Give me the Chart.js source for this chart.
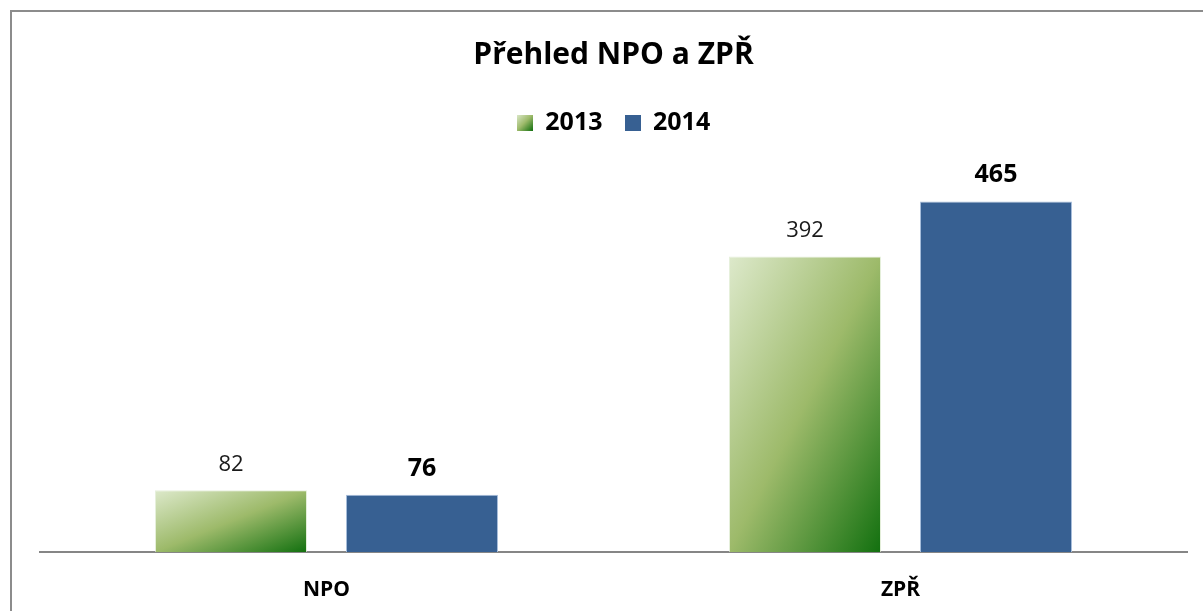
<!DOCTYPE html>
<html>
<head>
<meta charset="utf-8">
<script src="https://cdn.jsdelivr.net/npm/chart.js@4/dist/chart.umd.min.js"></script>
<style>
  html, body { margin: 0; padding: 0; background: #fff; }
  #wrap { width: 1203px; height: 611px; position: relative; }
</style>
</head>
<body>
<div id="wrap"><canvas id="chart"></canvas></div>
<script>
// data
const categories = ['NPO', 'ZPŘ'];
const years = ['2013', '2014'];
const values2013 = [82, 392];
const values2014 = [76, 465];

const BLUE = '#376092';
const FONT = '"Open Sans", Lato, sans-serif';

function greenStops(g) {
    g.addColorStop(0, '#dde9cb');
    g.addColorStop(0.5, '#9dba6a');
    g.addColorStop(1, '#12700f');
    return g;
}

// gradient whose middle line runs along the anti-diagonal of the box
function greenGradient(ctx, left, top, w, h) {
    const k = 2 * w * h / (w * w + h * h);
    return greenStops(ctx.createLinearGradient(left, top, left + h * k, top + w * k));
}

// small swatches for the legend
function swatch(kind) {
    const c = document.createElement('canvas');
    c.width = 16; c.height = 16;
    const x = c.getContext('2d');
    x.fillStyle = kind === 'green' ? greenGradient(x, 0, 0, 16, 16) : BLUE;
    x.fillRect(0, 0, 16, 16);
    return c;
}
const legendIcons = [swatch('green'), swatch('blue')];

// paint the green bars with a per-bar gradient
const gradientBars = {
    id: 'gradientBars',
    beforeDatasetDraw(chart, args) {
        if (args.index !== 0) return;
        const ctx = chart.ctx;
        args.meta.data.forEach(bar => {
            const left = bar.x - bar.width / 2;
            const g = greenGradient(ctx, left, bar.y, bar.width, bar.base - bar.y);
            bar.options = Object.assign({}, bar.options, { backgroundColor: g });
        });
    }
};

// extra room under the legend
const legendGap = {
    id: 'legendGap',
    beforeLayout(chart) {
        const lg = chart.legend;
        if (!lg || lg._gapDone) return;
        const fit = lg.fit;
        lg.fit = function () {
            fit.call(this);
            this.height += 30;
        };
        lg._gapDone = true;
    }
};

// value labels above the bars
const valueLabels = {
    id: 'valueLabels',
    afterDatasetsDraw(chart) {
        const ctx = chart.ctx;
        ctx.save();
        ctx.textAlign = 'center';
        ctx.textBaseline = 'alphabetic';
        chart.data.datasets.forEach((ds, i) => {
            ctx.font = (i === 1 ? 'bold 25px ' : '22px ') + FONT;
            ctx.fillStyle = i === 1 ? '#000' : '#1a1a1a';
            chart.getDatasetMeta(i).data.forEach((bar, j) => {
                ctx.fillText(ds.data[j], bar.x, bar.y - 19);
            });
        });
        ctx.restore();
    }
};

// outer frame of the chart object
const frame = {
    id: 'frame',
    beforeDraw(chart) {
        const ctx = chart.ctx;
        ctx.save();
        ctx.fillStyle = '#fff';
        ctx.fillRect(0, 0, chart.width, chart.height);
        ctx.strokeStyle = '#8c8c8c';
        ctx.lineWidth = 2;
        ctx.strokeRect(11, 11, chart.width + 20, chart.height + 20);
        ctx.restore();
    }
};

const ctx = document.getElementById('chart').getContext('2d');
new Chart(ctx, {
    type: 'bar',
    data: {
        labels: categories,
        datasets: [{
            label: years[0],
            data: values2013,
            backgroundColor: () => '#9dba6a',
            borderColor: 'rgba(220,234,205,0.7)',
            borderWidth: 1,
            categoryPercentage: 0.6655,
            barPercentage: 0.796
        }, {
            label: years[1],
            data: values2014,
            backgroundColor: BLUE,
            borderColor: '#a9bfdc',
            borderWidth: 1,
            categoryPercentage: 0.6655,
            barPercentage: 0.796
        }]
    },
    options: {
        responsive: true,
        maintainAspectRatio: false,
        animation: false,
        layout: { padding: { left: 39.5, right: 15.5, top: 0, bottom: 0 } },
        plugins: {
            title: {
                display: true,
                text: 'Přehled NPO a ZPŘ',
                color: '#000',
                font: { family: FONT, size: 30, weight: 'bold' },
                padding: { top: 37, bottom: 15 }
            },
            legend: {
                labels: {
                    usePointStyle: true,
                    pointStyle: 'rect',
                    boxWidth: 16,
                    boxHeight: 16,
                    padding: 22,
                    color: '#000',
                    font: { family: FONT, size: 25, weight: 'bold' },
                    generateLabels(chart) {
                        return chart.data.datasets.map((ds, i) => ({
                            text: ds.label,
                            pointStyle: legendIcons[i],
                            fillStyle: 'transparent',
                            strokeStyle: 'transparent',
                            lineWidth: 0,
                            fontColor: '#000',
                            datasetIndex: i
                        }));
                    }
                }
            },
            tooltip: { enabled: false }
        },
        scales: {
            x: {
                grid: { display: false },
                border: { display: true, color: '#868686', width: 2 },
                ticks: {
                    color: '#000',
                    padding: 17,
                    font: { family: FONT, size: 21, weight: 'bold' }
                },
                afterFit(scale) {
                    scale.height = 59;
                }
            },
            y: {
                display: false,
                min: 0,
                max: 500
            }
        }
    },
    plugins: [frame, legendGap, gradientBars, valueLabels]
});
</script>
</body>
</html>
